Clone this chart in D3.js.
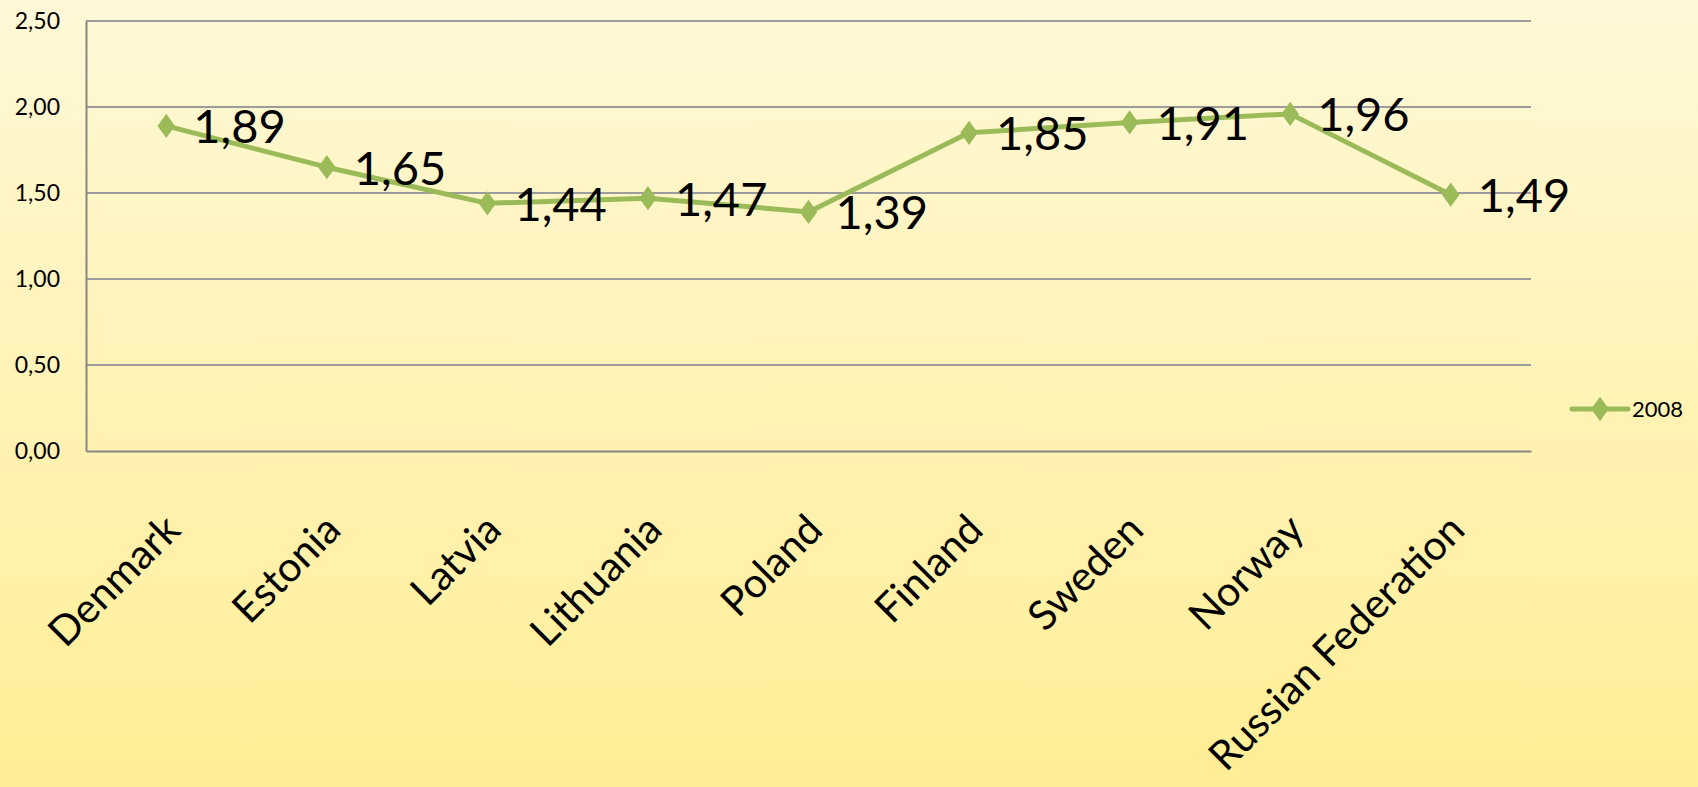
<!DOCTYPE html>
<html>
<head>
<meta charset="utf-8">
<script src="https://cdn.jsdelivr.net/npm/d3@7"></script>
<style>
  html, body { margin: 0; padding: 0; }
  body { width: 1698px; height: 787px; overflow: hidden; }
  text { font-family: Lato, "Open Sans", sans-serif; fill: #000; }
</style>
</head>
<body>
<svg class="chart"></svg>
<script>
// data
var countries = ["Denmark", "Estonia", "Latvia", "Lithuania", "Poland", "Finland", "Sweden", "Norway", "Russian Federation"];
var values2008 = [1.89, 1.65, 1.44, 1.47, 1.39, 1.85, 1.91, 1.96, 1.49];
var yTicks = [0, 0.5, 1, 1.5, 2, 2.5];
var seriesName = "2008";

var width = 1698,
    height = 787;

var margin = {top: 21, left: 86, right: 1698 - 1531, bottom: 787 - 451};

var svg = d3.select(".chart")
            .attr("width", width)
            .attr("height", height);

// background gradient
var defs = svg.append("defs");
var grad = defs.append("linearGradient")
  .attr("id", "bg")
  .attr("x1", 0).attr("y1", 0).attr("x2", 0).attr("y2", 1);
grad.append("stop").attr("offset", "0%").attr("stop-color", "#fff8d7");
grad.append("stop").attr("offset", "100%").attr("stop-color", "#ffee95");

svg.append("rect")
  .attr("width", width)
  .attr("height", height)
  .attr("fill", "url(#bg)");

var x = d3.scaleBand()
  .domain(countries)
  .range([margin.left, width - margin.right]);

var y = d3.scaleLinear()
  .domain([0, 2.5])
  .range([height - margin.bottom, margin.top]);

var fmt = function(v){ return d3.format(".2f")(v).replace(".", ","); };

// gridlines
svg.append("g")
  .selectAll("line")
  .data(yTicks.filter(function(d){ return d > 0; }))
  .enter().append("line")
  .attr("x1", margin.left)
  .attr("x2", width - margin.right)
  .attr("y1", function(d){ return y(d); })
  .attr("y2", function(d){ return y(d); })
  .attr("stroke", "#9c9c9c")
  .attr("stroke-width", 2);

// y axis
var yAxis = svg.append("g")
  .attr("transform", "translate(" + margin.left + ",0)")
  .call(d3.axisLeft(y).tickValues(yTicks).tickFormat(fmt).tickSize(0).tickPadding(26));
yAxis.select(".domain").attr("stroke", "#878787").attr("stroke-width", 2);
yAxis.selectAll("text")
  .style("font-family", "Lato, 'Open Sans', sans-serif")
  .style("font-size", "23px")
  .attr("fill", "#000");

// x axis
var xAxis = svg.append("g")
  .attr("transform", "translate(0," + y(0) + ")")
  .call(d3.axisBottom(x).tickSize(0).tickPadding(0));
xAxis.select(".domain").attr("stroke", "#878787").attr("stroke-width", 2);
xAxis.selectAll("text")
  .style("font-family", "Lato, 'Open Sans', sans-serif")
  .style("font-size", "41px")
  .attr("fill", "#000")
  .attr("text-anchor", "end")
  .attr("dy", "0.35em")
  .attr("transform", "translate(6,71) rotate(-45)");

// line
var cx = function(d, i){ return x(countries[i]) + x.bandwidth() / 2; };

var line = d3.line()
  .x(function(d, i){ return cx(d, i); })
  .y(function(d){ return y(d); });

svg.append("path")
  .datum(values2008)
  .attr("fill", "none")
  .attr("stroke", "#9bbb59")
  .attr("stroke-width", 5)
  .attr("stroke-linejoin", "round")
  .attr("d", line);

var diamond = d3.symbol().type(d3.symbolDiamond).size(170);

svg.append("g")
  .selectAll("path")
  .data(values2008)
  .enter().append("path")
  .attr("d", diamond)
  .attr("fill", "#9bbb59")
  .attr("transform", function(d, i){ return "translate(" + cx(d, i) + "," + y(d) + ") scale(1.25,1)"; });

// data labels
svg.append("g")
  .selectAll("text")
  .data(values2008)
  .enter().append("text")
  .attr("x", function(d, i){ return cx(d, i) + 27; })
  .attr("y", function(d){ return y(d); })
  .attr("dy", "0.37em")
  .style("font-size", "47px")
  .text(fmt);

// legend
var legend = svg.append("g").attr("transform", "translate(1572,409)");
legend.append("line")
  .attr("x1", 0).attr("x2", 56)
  .attr("stroke", "#9bbb59")
  .attr("stroke-width", 5)
  .attr("stroke-linecap", "round");
legend.append("path")
  .attr("d", diamond)
  .attr("fill", "#9bbb59")
  .attr("transform", "translate(28,0) scale(1.25,1)");
legend.append("text")
  .attr("x", 60)
  .attr("dy", "0.36em")
  .style("font-size", "22px")
  .text(seriesName);
</script>
</body>
</html>
